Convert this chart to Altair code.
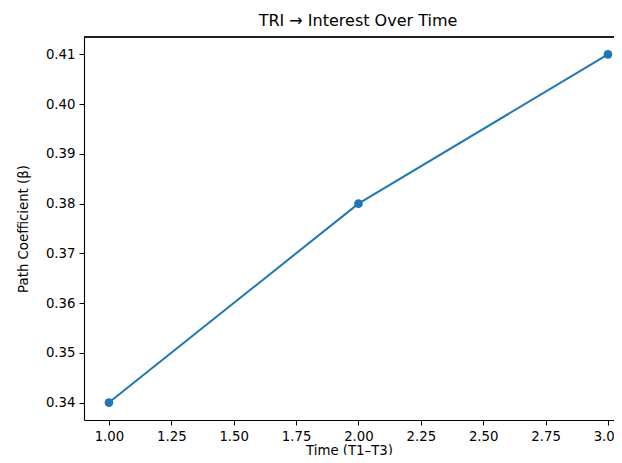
import altair as alt
import pandas as pd

time = [1, 2, 3]
beta = [0.34, 0.38, 0.41]
x_ticks = [1.0, 1.25, 1.5, 1.75, 2.0, 2.25, 2.5, 2.75, 3.0]
y_ticks = [0.34, 0.35, 0.36, 0.37, 0.38, 0.39, 0.40, 0.41]

df = pd.DataFrame({"time": time, "beta": beta})

FONT = "DejaVu Sans"
BLUE = "#1f77b4"
W, H = 530, 383

x = alt.X("time:Q", scale=alt.Scale(domain=[0.9, 0.9 + W / 249.5], nice=False, zero=False),
          axis=alt.Axis(values=x_ticks, format=".2f", title="Time (T1–T3)", grid=False,
                        domain=True, domainColor="black", domainWidth=1.1,
                        ticks=True, tickSize=5, tickColor="black", tickWidth=1,
                        labelFont=FONT, labelFontSize=13.3, labelColor="black", labelPadding=4,
                        titleFont=FONT, titleFontSize=13.3, titleColor="black", titleFontWeight="normal",
                        titleY=30, titleBaseline="middle", labelFlush=False))
y = alt.Y("beta:Q", scale=alt.Scale(domain=[0.3365, 0.4135], nice=False, zero=False),
          axis=alt.Axis(values=y_ticks, format=".2f", title="Path Coefficient (β)", grid=False,
                        domain=True, domainColor="black", domainWidth=1.1,
                        ticks=True, tickSize=5, tickColor="black", tickWidth=1,
                        labelFont=FONT, labelFontSize=13.3, labelColor="black", labelPadding=4,
                        titleFont=FONT, titleFontSize=13.3, titleColor="black", titleFontWeight="normal",
                        titleX=-61, titleY=H / 2, titleBaseline="middle", titleAlign="center",
                        titleAngle=270, labelFlush=False))

base = alt.Chart(df).encode(x=x, y=y)
line = base.mark_line(color=BLUE, strokeWidth=2)
pts = base.mark_point(color=BLUE, filled=True, opacity=1, size=75)
top_spine = alt.Chart(df).mark_rule(color="black", strokeWidth=1.1).encode(
    x=alt.value(0), x2=alt.value(W), y=alt.value(0))

chart = (line + pts + top_spine).properties(
    width=W, height=H,
    title=alt.TitleParams("TRI → Interest Over Time", font=FONT, fontSize=16,
                          fontWeight="normal", color="black", anchor="middle", dx=9, offset=7),
    autosize=alt.AutoSizeParams(type="none"),
    padding={"left": 76, "top": 29, "right": 0, "bottom": 35},
).configure(background="white").configure_view(stroke=None)

chart.save("out.html", embed_options={"renderer": "svg", "actions": False})
